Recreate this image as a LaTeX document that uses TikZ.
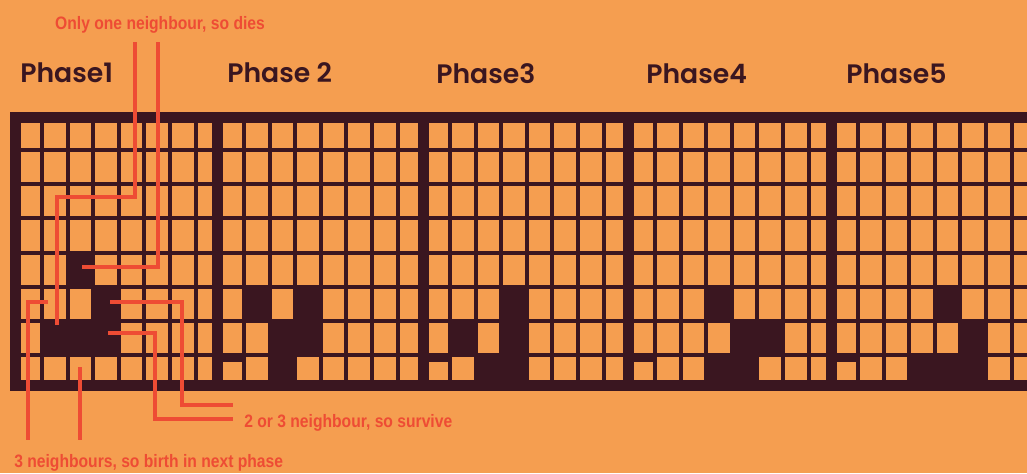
\documentclass[tikz,border=0pt]{standalone}
\usepackage{fontspec}
\newfontfamily\phasefont{Poppins}[BoldFont={Poppins SemiBold}]
\newfontfamily\notefont{Liberation Sans}[FakeStretch=0.87]
\usetikzlibrary{positioning}
\definecolor{bgorange}{RGB}{245,158,80}
\definecolor{ink}{RGB}{58,22,32}
\definecolor{notered}{RGB}{238,76,52}

\begin{document}
\begin{tikzpicture}[x=0.25mm,y=-0.25mm,
phase/.style={anchor=west,text=ink,inner sep=0pt,
  font=\phasefont\bfseries\fontsize{19}{19}\selectfont},
note/.style={text=notered,inner sep=0pt,
  font=\notefont\bfseries\fontsize{12.8}{13}\selectfont},
gridline/.style={draw=ink,line width=1mm},
frame/.style={draw=ink,line width=2.75mm},
callout/.style={draw=notered,line width=0.8mm}]
\useasboundingbox (0,0) rectangle (1027,473);
\clip (0,0) rectangle (1027,473);
\fill[bgorange] (0,0) rectangle (1027,473);

% labels
\node[phase] (P1) at (20,73) {Phase1};
\node[phase] (P2) at (227,73) {Phase 2};
\node[phase] (P3) at (436,74) {Phase3};
\node[phase] (P4) at (646,74) {Phase4};
\node[phase] (P5) at (846,74) {Phase5};
\node[note] (dies) at (160,25) {Only one neighbour, so dies};
\node[note,anchor=west] (survive) at (244,423) {2 or 3 neighbour, so survive};
\node[note,anchor=west] (birth) at (14,463) {3 neighbours, so birth in next phase};

% grid lines
\foreach \d in {15,217,423,628,831}
  \foreach \i in {0,...,6}
    \draw[gridline] (\d+27+25.6*\i,117) -- (\d+27+25.6*\i,385);
\foreach \i in {0,...,6}
  \draw[gridline] (15,150+34.2*\i) -- (1040,150+34.2*\i);

% live cells: panel/column/row
\foreach \d/\c/\r in {15/2/4,15/3/5,15/1/6,15/2/6,15/3/6,
  217/1/5,217/3/5,217/2/6,217/3/6,217/2/7,
  423/3/5,423/1/6,423/3/6,423/2/7,423/3/7,
  628/3/5,628/4/6,628/5/6,628/3/7,628/4/7,
  831/4/5,831/5/6,831/3/7,831/4/7,831/5/7}
  \fill[ink] (\d+1.4+25.6*\c,115.8+34.2*\r) rectangle (\d+27+25.6*\c,150+34.2*\r);
\foreach \d in {217,423,628,831}
  \fill[ink] (\d,354) rectangle (\d+27,362);

% frame
\draw[frame] (1040,117.5) -- (15,117.5) -- (15,385) -- (1040,385);
\foreach \d in {217,423,628,831}
  \draw[frame] (\d,117.5) -- (\d,385);

% callouts
\coordinate (dA) at (135,42);
\coordinate (dB) at (158,42);
\coordinate (c16) at (57,325);
\coordinate (c24) at (82,267);
\coordinate (c35) at (110,302);
\coordinate (c36) at (108,333);
\coordinate (c15) at (48,302);
\coordinate (c27) at (80,367);
\coordinate (sA) at (233,405);
\coordinate (sB) at (233,419);
\coordinate (bA) at (28,440);
\coordinate (bB) at (80,440);
\draw[callout] (dA) |- (c16 |- 0,197) -- (c16);
\draw[callout] (dB) |- (c24);
\draw[callout] (c35) -| (182,405) -- (sA);
\draw[callout] (c36) -| (155,419) -- (sB);
\draw[callout] (c15) -| (bA);
\draw[callout] (c27) -- (bB);
\end{tikzpicture}
\end{document}
